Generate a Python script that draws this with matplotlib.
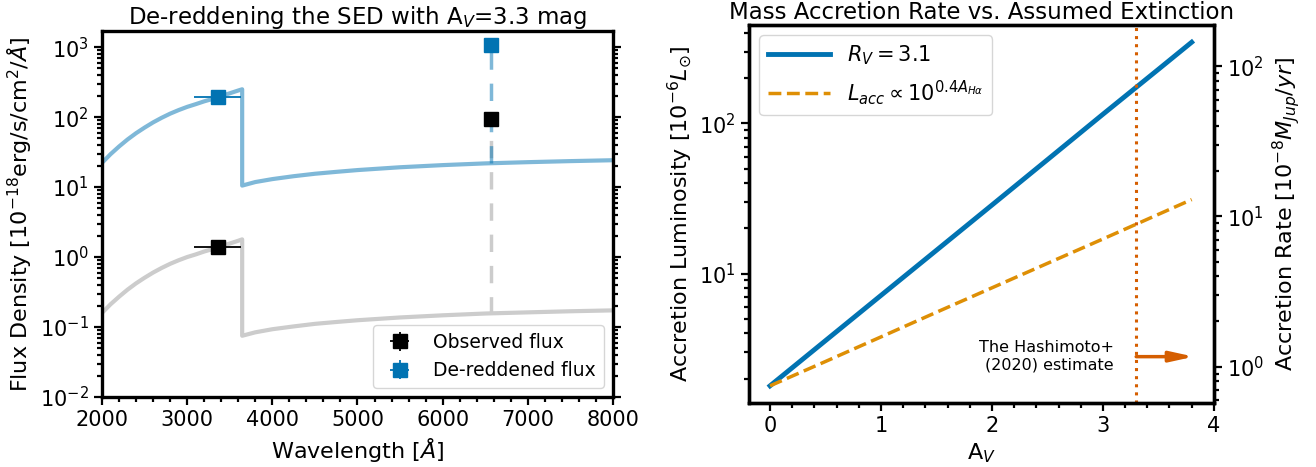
import numpy as np
import matplotlib
matplotlib.use('Agg')
import matplotlib.pyplot as plt
from matplotlib.ticker import MultipleLocator

# left panel: model SED (observed and de-reddened), photometry
wave_model = [2000, 2100, 2200, 2300, 2400, 2500, 2600, 2700, 2800, 2900, 3000, 3100, 3200, 3300, 3400,
              3500, 3600, 3646, 3646, 3800, 4000, 4250, 4500, 4750, 5000, 5500, 6000, 6500, 7000, 7500, 8000]
flux_obs_model = [0.159, 0.211, 0.271, 0.342, 0.421, 0.506, 0.600, 0.698, 0.80, 0.90, 1.0, 1.09, 1.20,
                  1.30, 1.43, 1.56, 1.71, 1.79, 0.075, 0.084, 0.093, 0.102, 0.111, 0.118, 0.125, 0.137,
                  0.147, 0.156, 0.162, 0.168, 0.173]
flux_der_model = [22.2, 29.5, 38.0, 47.9, 58.9, 70.8, 84.0, 97.7, 112.0, 126.0, 140.0, 153.0, 168.0,
                  182.0, 200.0, 219.0, 240.0, 250.0, 10.5, 11.8, 13.0, 14.3, 15.5, 16.5, 17.5, 19.2,
                  20.6, 21.8, 22.7, 23.5, 24.2]
wave_pts = [3360, 6563]
xerr_pts = [275, 0]
flux_obs_pts = [1.37, 94.0]
flux_der_pts = [192.0, 1090.0]
yerr_obs = [0.06, 3.0]
yerr_der = [8.0, 35.0]
ha_cont_obs = 0.156
ha_cont_der = 21.9

# right panel: accretion luminosity vs A_V
av = [0.0, 0.5, 1.0, 1.5, 2.0, 2.5, 3.0, 3.5, 3.8]
lacc_rv31 = [1.79, 3.58, 7.16, 14.3, 28.6, 57.3, 115.0, 229.0, 347.0]
lacc_simple = [1.79, 2.60, 3.79, 5.53, 8.04, 11.7, 17.0, 24.8, 31.1]
av_hashimoto = 3.3
lum_to_rate = 2.4

blue = '#0173b2'
orange = '#de8f05'
red = '#d55e00'

plt.rcParams['font.size'] = 16
plt.rcParams['mathtext.fontset'] = 'dejavusans'

fig = plt.figure(figsize=(13.16, 4.67), dpi=100)
ax1 = fig.add_axes([0.0775, 0.1499, 0.3883, 0.7837])
ax2 = fig.add_axes([0.5691, 0.137, 0.3533, 0.8094])

# ---- left panel
ax1.plot(wave_model, flux_obs_model, color='0.8', lw=3)
ax1.plot(wave_model, flux_der_model, color=blue, alpha=0.5, lw=3)
ax1.plot([wave_pts[1], wave_pts[1]], [ha_cont_obs, flux_obs_pts[1]], '--', color='0.8', lw=2.5, dashes=(5, 4))
ax1.plot([wave_pts[1], wave_pts[1]], [ha_cont_der, flux_der_pts[1]], '--', color=blue, alpha=0.5, lw=2.5, dashes=(5, 4))
ax1.errorbar(wave_pts, flux_obs_pts, xerr=xerr_pts, yerr=yerr_obs, fmt='s', color='k', ms=9.5,
             elinewidth=1.3, label='Observed flux', zorder=5)
ax1.errorbar(wave_pts, flux_der_pts, xerr=xerr_pts, yerr=yerr_der, fmt='s', color=blue, ms=9.5,
             elinewidth=1.3, label='De-reddened flux', zorder=5)
ax1.set_yscale('log')
ax1.set_xlim(2000, 8000)
ax1.set_ylim(1e-2, 1.7e3)
ax1.xaxis.set_minor_locator(MultipleLocator(200))
ax1.set_xlabel(r'Wavelength [$\AA$]', fontsize=16)
ax1.set_ylabel(r'Flux Density [$10^{-18}$erg/s/cm$^2$/$\AA$]', fontsize=16)
ax1.set_title(r'De-reddening the SED with A$_V$=3.3 mag', fontsize=16.5, pad=4)
ax1.legend(loc='lower right', fontsize=13.5)
ax1.tick_params(which='both', right=True, direction='out', width=1.6, labelsize=15)
ax1.tick_params(which='major', length=6)
ax1.tick_params(which='minor', length=3.5)

# ---- right panel
ax2.plot(av, lacc_rv31, color=blue, lw=3.5, label=r'$R_V=3.1$')
ax2.plot(av, lacc_simple, '--', color=orange, lw=2.5, label=r'$L_{acc} \propto 10^{0.4 A_{H\alpha}}$')
ax2.axvline(av_hashimoto, color=red, ls=':', lw=2.2)
ax2.set_yscale('log')
ax2.set_xlim(-0.19, 4.0)
ax2.xaxis.set_minor_locator(MultipleLocator(0.2))
ax2.set_xlabel(r'A$_V$', fontsize=16)
ax2.set_ylabel(r'Accretion Luminosity [$10^{-6}L_{\odot}$]', fontsize=16)
ax2.set_title('Mass Accretion Rate vs. Assumed Extinction', fontsize=16.5, pad=4)
ax2.legend(loc='upper left', fontsize=15, handlelength=3)
ax2.annotate('', xy=(3.82, 2.8), xytext=(av_hashimoto, 2.8),
             arrowprops=dict(arrowstyle='-|>,head_length=1.0,head_width=0.22', color=red, lw=2.5,
                             mutation_scale=14, shrinkA=0, shrinkB=0))
ax2.text(3.1, 2.8, 'The Hashimoto+\n(2020) estimate', ha='right', va='center', fontsize=11.5)
ax2.tick_params(which='both', direction='out', width=1.6, labelsize=15)
ax2.tick_params(which='major', length=6)
ax2.tick_params(which='minor', length=3.5)

ax3 = ax2.twinx()
ylo, yhi = ax2.get_ylim()
ax3.set_yscale('log')
ax3.set_ylim(ylo / lum_to_rate, yhi / lum_to_rate)
ax3.set_ylabel(r'Accretion Rate [$10^{-8}M_{Jup}/yr$]', fontsize=16)
ax3.tick_params(which='both', direction='out', width=1.6, labelsize=15)
ax3.tick_params(which='major', length=6)
ax3.tick_params(which='minor', length=3.5)

for a in (ax1, ax2, ax3):
    for s in a.spines.values():
        s.set_linewidth(2.4)

fig.savefig('out.png', dpi=100)
